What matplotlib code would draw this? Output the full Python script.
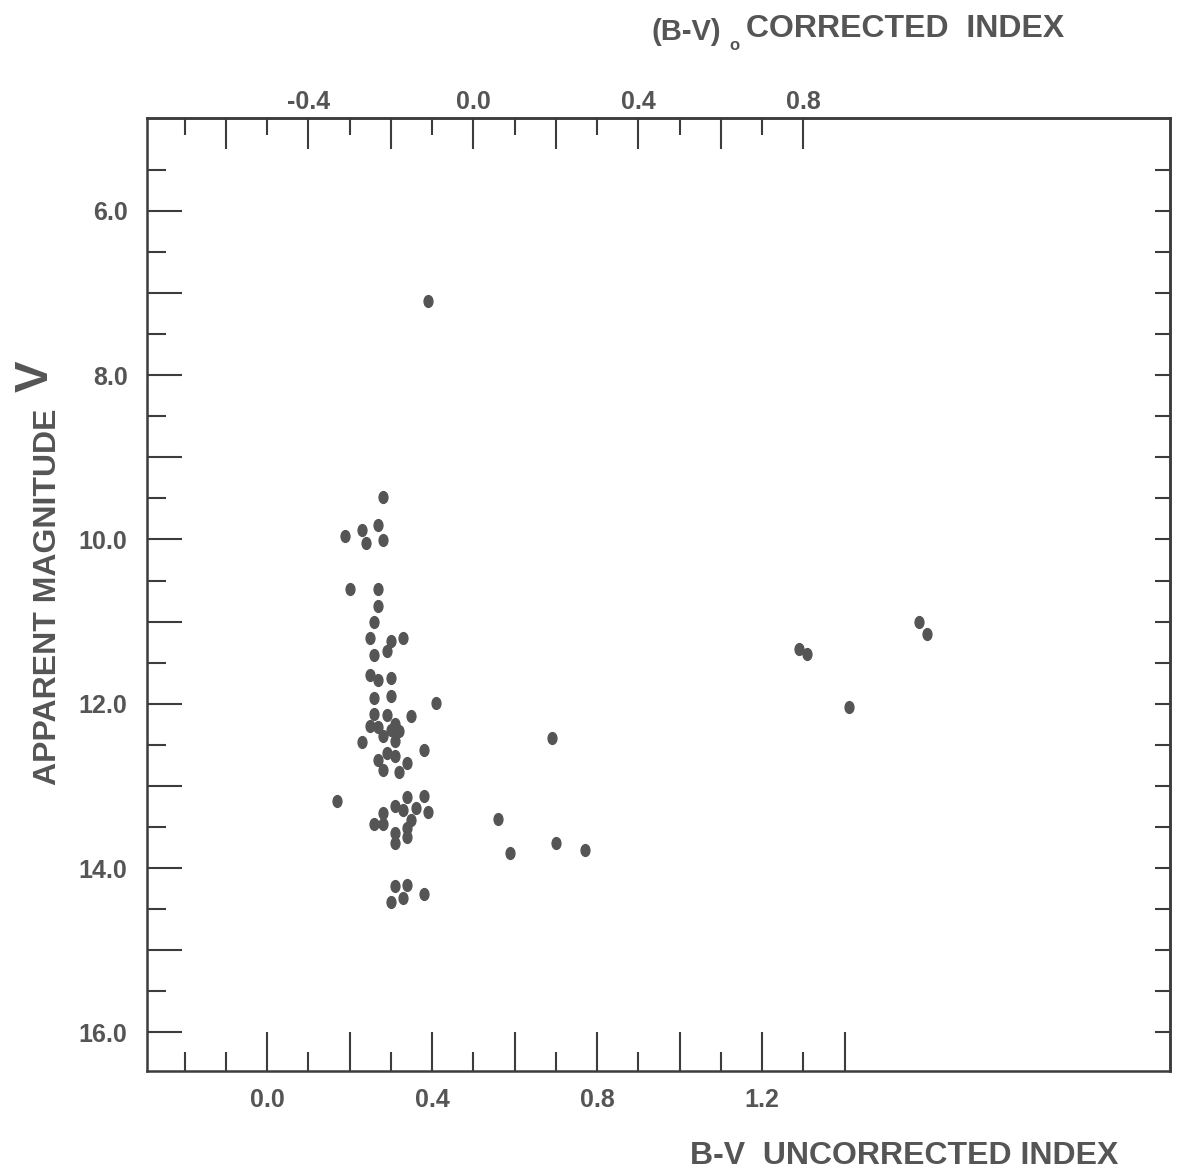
import numpy as np
import matplotlib.pyplot as plt
from matplotlib.path import Path

# uncorrected B-V index and apparent magnitude V of each star
bv_unc = [0.39, 0.28, 0.27, 0.23, 0.19, 0.24, 0.28, 0.20, 0.27, 0.27,
          0.26, 0.25, 0.30, 0.33, 0.26, 0.29, 0.25, 0.27, 0.30, 0.26,
          0.30, 0.41, 0.26, 0.29, 0.35, 0.25, 0.27, 0.31, 0.30, 0.32,
          0.28, 0.23, 0.31, 0.38, 0.29, 0.31, 0.27, 0.34, 0.28, 0.32,
          0.17, 0.34, 0.38, 0.31, 0.33, 0.36, 0.39, 0.28, 0.35, 0.26,
          0.28, 0.34, 0.31, 0.34, 0.31, 0.31, 0.34, 0.38, 0.33, 0.30,
          0.69, 0.56, 0.70, 0.59, 0.77, 1.58, 1.60, 1.29, 1.31, 1.41]
v_mag = [7.10, 9.48, 9.83, 9.88, 9.96, 10.04, 10.01, 10.60, 10.60, 10.81,
         11.01, 11.20, 11.24, 11.20, 11.41, 11.36, 11.65, 11.71, 11.69, 11.93,
         11.91, 11.99, 12.13, 12.14, 12.15, 12.27, 12.28, 12.25, 12.32, 12.33,
         12.39, 12.46, 12.45, 12.56, 12.60, 12.64, 12.68, 12.72, 12.81, 12.83,
         13.18, 13.13, 13.12, 13.24, 13.29, 13.27, 13.32, 13.33, 13.41, 13.46,
         13.46, 13.51, 13.57, 13.62, 13.70, 14.22, 14.21, 14.31, 14.36, 14.41,
         12.42, 13.40, 13.69, 13.82, 13.78, 11.01, 11.15, 11.33, 11.40, 12.04]

reddening = 0.50  # E(B-V) between bottom and top scales

bottom_long = [0.0, 0.2, 0.4, 0.6, 0.8, 1.0, 1.2, 1.4]
bottom_short = [-0.2, -0.1, 0.1, 0.3, 0.5, 0.7, 0.9, 1.1, 1.3]
bottom_labels = ['0.0', '', '0.4', '', '0.8', '', '1.2', '']

top_long = [-0.6, -0.4, -0.2, 0.0, 0.2, 0.4, 0.6, 0.8]
top_short = [-0.7, -0.5, -0.3, -0.1, 0.1, 0.3, 0.5, 0.7]
top_labels = ['', '-0.4', '', '0.0', '', '0.4', '', '0.8']

left_long = [6, 7, 8, 9, 10, 11, 12, 13, 14, 15, 16]
left_short = [5.5, 6.5, 7.5, 8.5, 9.5, 10.5, 11.5, 12.5, 13.5, 14.5, 15.5]
left_labels = ['6.0', '', '8.0', '', '10.0', '', '12.0', '', '14.0', '', '16.0']

right_ticks = [5.5 + 0.5 * i for i in range(22)]

plt.rcParams['font.family'] = ['Liberation Sans', 'DejaVu Sans']
ink = '#3c3c3c'
txt = '#555555'

W, H = 1180, 1174
fig = plt.figure(figsize=(W / 100, H / 100), dpi=100)
ax = fig.add_axes([147 / W, 1 - 1071 / H, 1023 / W, 953 / H])

circ = Path.unit_circle()
dot = Path(circ.vertices * np.array([0.75, 1.0]), circ.codes)
ax.plot(bv_unc, v_mag, linestyle='none', marker=dot, ms=8.5,
        color='#555555', mec='#555555')

ax.set_xlim(-0.291, 2.189)
ax.set_ylim(16.47, 4.87)

for s in ax.spines.values():
    s.set_color(ink)
    s.set_linewidth(1.8)

# bottom axis
ax.set_xticks(bottom_long, bottom_labels)
ax.set_xticks(bottom_short, minor=True)
ax.tick_params(axis='x', which='major', direction='in', length=28, width=1.5,
               color=ink, pad=12, labelsize=18, labelcolor=txt)
ax.tick_params(axis='x', which='minor', direction='in', length=14, width=1.5,
               color=ink)

# left axis
ax.set_yticks(left_long, left_labels)
ax.set_yticks(left_short, minor=True)
ax.tick_params(axis='y', which='major', direction='in', length=25, width=1.5,
               color=ink, pad=14, labelsize=18, labelcolor=txt)
ax.tick_params(axis='y', which='minor', direction='in', length=14, width=1.5,
               color=ink)
for lab in ax.get_xticklabels() + ax.get_yticklabels():
    lab.set_fontweight('bold')

# top axis: corrected index
top = ax.secondary_xaxis('top', functions=(lambda x: x - reddening,
                                           lambda x: x + reddening))
top.set_xticks(top_long, top_labels)
top.set_xticks(top_short, minor=True)
top.tick_params(axis='x', which='major', direction='in', length=22, width=1.5,
                color=ink, pad=3, labelsize=18, labelcolor=txt)
top.tick_params(axis='x', which='minor', direction='in', length=12, width=1.5,
                color=ink)
top.spines['top'].set_color(ink)
top.spines['top'].set_linewidth(1.8)
for lab in top.get_xticklabels():
    lab.set_fontweight('bold')

# right axis: plain ticks
right = ax.secondary_yaxis('right')
right.set_yticks(right_ticks, [''] * len(right_ticks))
right.tick_params(axis='y', which='major', direction='in', length=11, width=1.5,
                  color=ink)
right.tick_params(axis='y', which='minor', length=0)
right.spines['right'].set_color(ink)
right.spines['right'].set_linewidth(1.8)


def px(x, y):
    return x / W, 1 - y / H


fig.text(*px(652, 40), '(B-V)', fontsize=21, fontweight='bold', color=txt,
         ha='left', va='baseline')
fig.text(*px(729, 50), 'o', fontsize=12, fontweight='bold', color=txt,
         ha='left', va='baseline')
fig.text(*px(746, 37), 'CORRECTED  INDEX', fontsize=23, fontweight='bold',
         color=txt, ha='left', va='baseline')

fig.text(*px(690, 1164), 'B-V  UNCORRECTED INDEX', fontsize=23,
         fontweight='bold', color=txt, ha='left', va='baseline')

fig.text(*px(56, 785), 'APPARENT MAGNITUDE', fontsize=23, fontweight='bold',
         color=txt, rotation=90, ha='left', va='baseline',
         rotation_mode='anchor')
fig.text(*px(48, 392), 'V', fontsize=34, fontweight='bold', color=txt,
         rotation=90, ha='left', va='baseline', rotation_mode='anchor')

fig.savefig('out.png', dpi=100)
